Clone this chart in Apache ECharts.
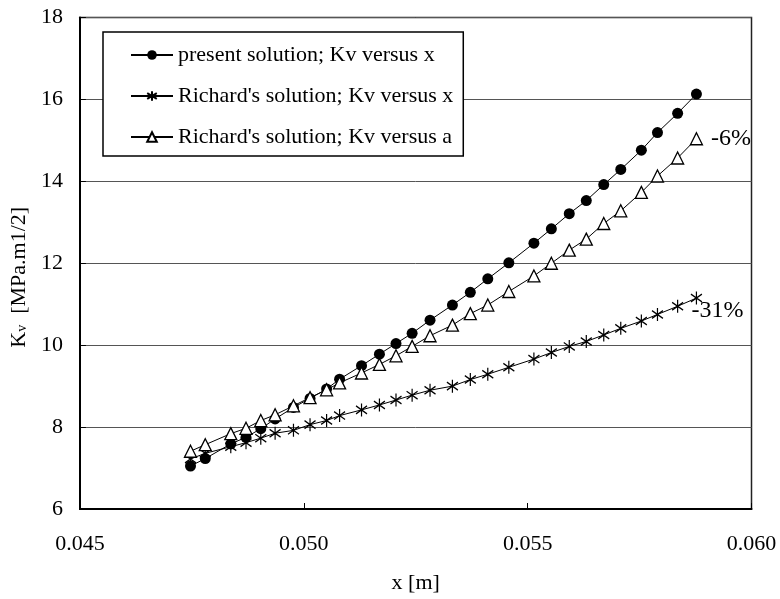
<!DOCTYPE html>
<html>
<head>
<meta charset="utf-8">
<script src="https://cdn.jsdelivr.net/npm/echarts@6/dist/echarts.min.js"></script>
<style>
  html, body { margin: 0; padding: 0; background: #fff; }
  #chart { width: 780px; height: 599px; }
</style>
</head>
<body>
<div id="chart"></div>
<script>
// crack length x [m], shared by all three series
const xValues = [
  0.04747, 0.04780, 0.04837, 0.04871, 0.04904, 0.04936, 0.04977, 0.05014, 0.05051, 0.05080,
  0.05129, 0.05169, 0.05206, 0.05242, 0.05282, 0.05332, 0.05372, 0.05411, 0.05458, 0.05514,
  0.05553, 0.05593, 0.05631, 0.05670, 0.05708, 0.05754, 0.05790, 0.05835, 0.05877
];
const presentKv = [
  7.05, 7.23, 7.59, 7.75, 7.96, 8.20, 8.48, 8.70, 8.93, 9.17,
  9.50, 9.78, 10.04, 10.29, 10.61, 10.98, 11.29, 11.62, 12.01, 12.49,
  12.84, 13.21, 13.53, 13.92, 14.29, 14.76, 15.19, 15.66, 16.13
];
const richardKvX = [
  7.22, 7.36, 7.52, 7.62, 7.73, 7.85, 7.92, 8.06, 8.16, 8.28,
  8.42, 8.54, 8.66, 8.78, 8.90, 9.00, 9.16, 9.29, 9.46, 9.66,
  9.82, 9.97, 10.09, 10.25, 10.41, 10.59, 10.75, 10.95, 11.15
];
const richardKvA = [
  7.41, 7.57, 7.84, 7.97, 8.16, 8.30, 8.52, 8.72, 8.91, 9.08,
  9.32, 9.53, 9.74, 9.97, 10.23, 10.49, 10.77, 10.98, 11.31, 11.69,
  12.00, 12.32, 12.59, 12.97, 13.28, 13.73, 14.13, 14.57, 15.04
];
const seriesNames = [
  "present solution; Kv versus x",
  "Richard's solution; Kv versus x",
  "Richard's solution; Kv versus a"
];
const endLabels = ["-6%", "-31%"];

const font = "Liberation Serif";
const asterisk = "path://M0,-6L0,6M-5.2,-3.6L5.2,3.6M-5.2,3.6L5.2,-3.6";

const pairs = (ys) => xValues.map((x, i) => [x, ys[i]]);

// put a text label on the last point of a series
const withEndLabel = (ys, text, labelOpts) => {
  const data = pairs(ys);
  const last = data.length - 1;
  data[last] = {
    value: data[last],
    label: Object.assign({
      show: true,
      formatter: text,
      fontFamily: font,
      fontSize: 24,
      color: "#000",
    }, labelOpts),
  };
  return data;
};

const chart = echarts.init(document.getElementById("chart"));

const option = {
  animation: false,
  backgroundColor: "#fff",
  textStyle: { fontFamily: font, color: "#000" },
  grid: {
    left: 77.5, right: 28.5, top: 17.5, bottom: 86,
    show: true, borderColor: "#222", borderWidth: 1.5,
  },
  legend: {
    orient: "vertical",
    left: 103,
    top: 32,
    backgroundColor: "#fff",
    borderColor: "#000",
    borderWidth: 1.5,
    borderRadius: 0,
    padding: [12, 10, 8, 27],
    itemWidth: 42,
    itemHeight: 12,
    itemGap: 19,
    textStyle: { fontFamily: font, fontSize: 22, color: "#000" },
    data: seriesNames,
  },
  xAxis: {
    type: "value",
    min: 0.045,
    max: 0.06,
    interval: 0.005,
    name: "x [m]",
    nameLocation: "middle",
    nameGap: 63,
    nameTextStyle: { fontFamily: font, fontSize: 22, color: "#000" },
    axisLine: { show: true, lineStyle: { color: "#000", width: 2 } },
    axisTick: { show: true, inside: true, length: 6, lineStyle: { color: "#000" } },
    axisLabel: {
      fontFamily: font, fontSize: 22, color: "#000", margin: 24,
      formatter: (v) => v.toFixed(3),
    },
    splitLine: { show: false },
  },
  yAxis: {
    type: "value",
    min: 6,
    max: 18,
    interval: 2,
    name: "{k|K}{s|v}{k|  [MPa.m1/2]}",
    nameLocation: "middle",
    nameGap: 46,
    nameTextStyle: {
      padding: [0, 28, 0, 0],
      rich: {
        k: { fontFamily: font, fontSize: 22, color: "#000" },
        s: { fontFamily: font, fontSize: 14, color: "#000", padding: [7, 0, 0, 0] },
      },
    },
    axisLine: { show: true, lineStyle: { color: "#000", width: 2 } },
    axisTick: { show: true, inside: true, length: 6, lineStyle: { color: "#000" } },
    axisLabel: { fontFamily: font, fontSize: 22, color: "#000", margin: 17 },
    splitLine: { show: true, lineStyle: { color: "#555", width: 1 } },
  },
  series: [
    {
      name: seriesNames[0],
      type: "line",
      data: pairs(presentKv),
      symbol: "circle",
      symbolSize: 11,
      lineStyle: { color: "#000", width: 1 },
      itemStyle: { color: "#000", borderColor: "#000", borderWidth: 0 },
    },
    {
      name: seriesNames[1],
      type: "line",
      data: withEndLabel(richardKvX, endLabels[1], { position: "right", distance: 5, offset: [-16, 13] }),
      symbol: asterisk,
      symbolSize: [11, 13],
      lineStyle: { color: "#000", width: 1 },
      itemStyle: { color: "rgba(0,0,0,0)", borderColor: "#000", borderWidth: 1.3 },
    },
    {
      name: seriesNames[2],
      type: "line",
      data: withEndLabel(richardKvA, endLabels[0], { position: "right", distance: 8 }),
      symbol: "triangle",
      symbolSize: 12,
      lineStyle: { color: "#000", width: 1 },
      itemStyle: { color: "#fff", borderColor: "#000", borderWidth: 1.3 },
    },
  ],
};

chart.setOption(option);
</script>
</body>
</html>
